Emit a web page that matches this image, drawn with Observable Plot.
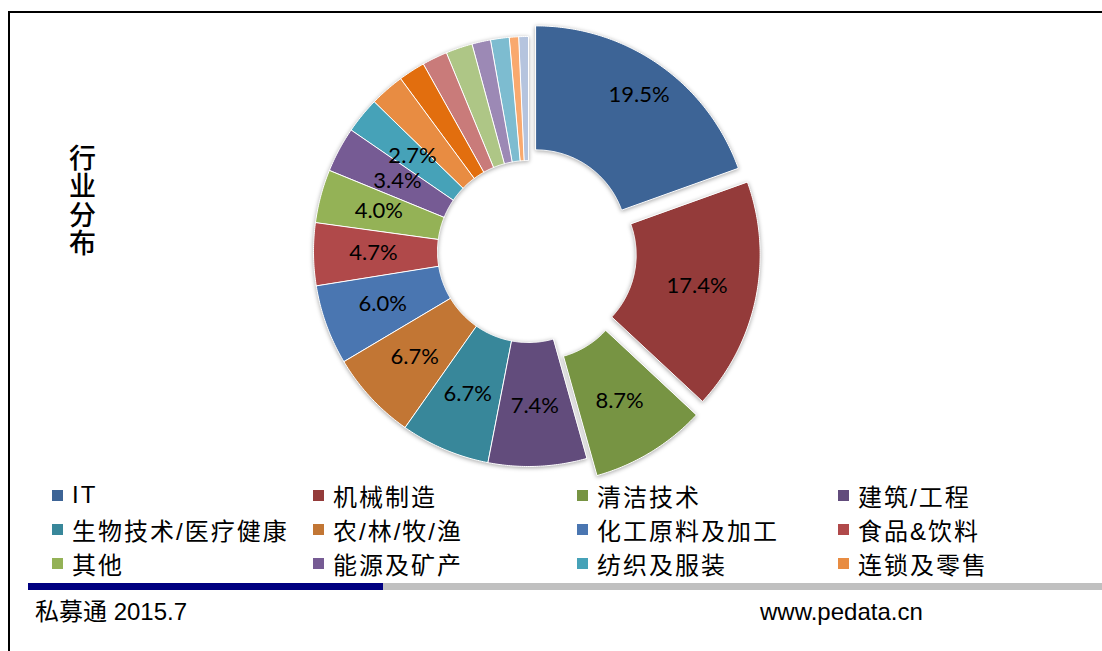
<!DOCTYPE html>
<html><head><meta charset="utf-8">
<script src="https://cdn.jsdelivr.net/npm/d3@7"></script>
<script src="https://cdn.jsdelivr.net/npm/@observablehq/plot@0.6"></script>
<style>
body{margin:0;background:#fff;}
#wrap{position:relative;width:1102px;height:651px;overflow:hidden;font-family:"Liberation Sans","Noto Sans CJK SC",sans-serif;color:#000;}
#frame{position:absolute;left:8px;top:11px;width:1200px;height:700px;border-top:2px solid #000;border-left:2px solid #000;}
#chart{position:absolute;left:0;top:0;}
#chart svg g[aria-label="line"]{filter:drop-shadow(0px 1px 2px rgba(0,0,0,0.35));}
#ytitle{position:absolute;left:67px;top:144px;font-size:27px;line-height:30px;writing-mode:vertical-rl;text-orientation:upright;letter-spacing:1.5px;font-weight:500;font-family:"Noto Sans CJK SC",sans-serif;}
.leg{position:absolute;height:26px;display:flex;align-items:center;white-space:nowrap;font-size:24px;letter-spacing:2px;}
.leg i{display:inline-block;width:11px;height:11px;margin-right:9px;flex:none;}
.bar{position:absolute;top:583px;height:7px;}
.foot{position:absolute;top:597px;font-size:24px;line-height:30px;}
</style></head>
<body>
<div id="wrap">
  <div id="frame"></div>
  <div id="chart"></div>
  <div id="ytitle">行业分布</div>
  <div id="legend"></div>
  <div class="bar" style="left:28px;width:355px;background:#000080"></div>
  <div class="bar" style="left:383px;width:719px;background:#C0C0C0"></div>
  <div class="foot" style="left:35px">私募通 2015.7</div>
  <div class="foot" style="left:760px">www.pedata.cn</div>
</div>
<script>
// Legend categories (the 12 named industries)
const categories = ["IT","机械制造","清洁技术","建筑/工程","生物技术/医疗健康","农/林/牧/渔","化工原料及加工","食品&饮料","其他","能源及矿产","纺织及服装","连锁及零售"];
// Slice shares (%) in drawing order, clockwise from 12 o'clock; the last 7 are unnamed small slices
const values = [19.5,17.4,8.7,7.4,6.7,6.7,6.0,4.7,4.0,3.4,2.7,2.6,2.0,1.9,2.0,1.4,1.4,0.7,0.7];
// Number of slices that carry a percentage label
const labelledCount = 11;
const colors = ["#3D6496","#943B3A","#779443","#624C7C","#38879A","#C27634","#4A76B1","#B0494A","#94B256","#765B94","#46A2B8","#E88C42","#E26E0E","#C97B7A","#AEC686","#9C89B5","#7DBCD0","#F9A96E","#B5C4DE"];

const PX = 215;               // pixel radius of outer ring
const inner = 91 / PX;
const explode = {0: 13/PX, 1: 17/PX, 2: 20/PX};
const labelR = i => (i === 0 ? 192/PX : i === 10 ? 150/PX : i === 9 ? 149/PX : 155/PX + (explode[i] || 0));

const arcs = d3.pie().sort(null).value(d => d)(values);
const pts = [];
const labels = [];
arcs.forEach((a, i) => {
  const mid = (a.startAngle + a.endAngle) / 2;
  const e = explode[i] || 0;
  const ox = e * Math.sin(mid), oy = e * Math.cos(mid);
  const n = Math.max(2, Math.ceil((a.endAngle - a.startAngle) / 0.01));
  for (let k = 0; k <= n; k++) {
    const t = a.startAngle + (a.endAngle - a.startAngle) * k / n;
    pts.push({i, x: ox + Math.sin(t), y: oy + Math.cos(t)});
  }
  for (let k = n; k >= 0; k--) {
    const t = a.startAngle + (a.endAngle - a.startAngle) * k / n;
    pts.push({i, x: ox + inner * Math.sin(t), y: oy + inner * Math.cos(t)});
  }
  if (i < labelledCount) {
    const rr = labelR(i);
    labels.push({x: rr * Math.sin(mid), y: rr * Math.cos(mid), t: values[i].toFixed(1) + "%"});
  }
});

const chart = Plot.plot({
  width: 1102, height: 480, margin: 0,
  style: {background: "transparent", overflow: "visible"},
  x: {domain: [-1, 1], range: [313, 743], axis: null},
  y: {domain: [-1, 1], range: [466, 36], axis: null},
  color: {type: "ordinal", domain: d3.range(values.length), range: colors},
  marks: [
    Plot.line(pts, {x: "x", y: "y", z: "i", fill: "i", stroke: "white", strokeWidth: 1, curve: "linear-closed"}),
    Plot.text(labels, {x: "x", y: "y", text: "t", fontSize: 22, fontFamily: "Lato", fill: "black"})
  ]
});
document.getElementById("chart").appendChild(chart);

// Legend
const colX = [52, 313, 577, 838];
const rowY = [495, 529, 563];
const leg = document.getElementById("legend");
categories.forEach((c, k) => {
  const d = document.createElement("div");
  d.className = "leg";
  d.style.left = colX[k % 4] + "px";
  d.style.top = (rowY[Math.floor(k / 4)] - 13) + "px";
  d.innerHTML = `<i style="background:${colors[k]}"></i><span>${c}</span>`;
  leg.appendChild(d);
});
</script>
</body></html>
